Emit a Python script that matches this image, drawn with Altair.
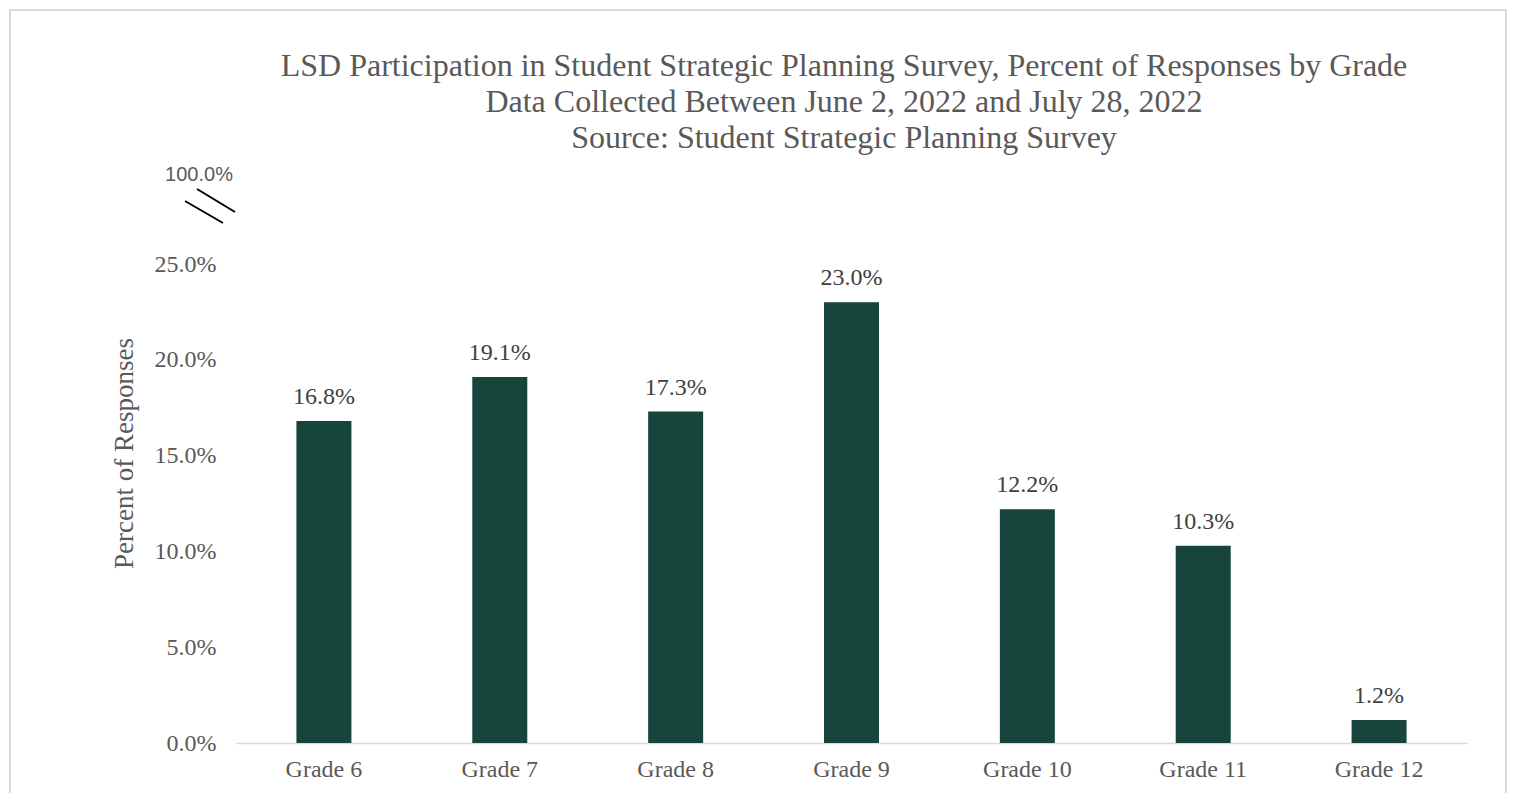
import altair as alt
import pandas as pd

grades = ["Grade 6", "Grade 7", "Grade 8", "Grade 9", "Grade 10", "Grade 11", "Grade 12"]
percents = [16.8, 19.1, 17.3, 23.0, 12.2, 10.3, 1.2]
y_ticks = [0, 5, 10, 15, 20, 25]
title_lines = [
    "LSD Participation in Student Strategic Planning Survey, Percent of Responses by Grade",
    "Data Collected Between June 2, 2022 and July 28, 2022",
    "Source: Student Strategic Planning Survey",
]
break_label = "100.0%"

df = pd.DataFrame({"grade": grades, "pct": percents})
df["label"] = [f"{v:.1f}%" for v in percents]

W, H = 1231, 479
SERIF = "Liberation Serif"

x_enc = alt.X("grade:N", sort=grades, title=None,
              scale=alt.Scale(paddingInner=0, paddingOuter=0),
              axis=alt.Axis(labelAngle=0, labelFont=SERIF, labelFontSize=24,
                            labelColor="#595959", ticks=False, domainColor="#d9d9d9",
                            domainWidth=1.5, labelPadding=14))
y_enc = alt.Y("pct:Q", title="Percent of Responses",
              scale=alt.Scale(domain=[0, 25], nice=False),
              axis=alt.Axis(values=y_ticks, labelExpr="format(datum.value, '.1f') + '%'",
                            labelFont=SERIF, labelFontSize=24, labelColor="#595959",
                            ticks=False, domain=False, grid=False, labelPadding=20,
                            titleFont=SERIF, titleFontSize=27, titleColor="#595959",
                            titleFontWeight="normal", titleX=-112, titleY=189,
                            titleAngle=270, titleBaseline="middle", titleAlign="center"))

bars = alt.Chart(df).mark_bar(size=55, color="#17453B").encode(x=x_enc, y=y_enc)
labels = alt.Chart(df).mark_text(baseline="alphabetic", dy=-17, font=SERIF, fontSize=24,
                                 color="#404040").encode(
    x=alt.X("grade:N", sort=grades), y="pct:Q", text="label:N")

one = alt.Data(values=[{}])
title_text = alt.Chart(one).mark_text(font=SERIF, fontSize=32, color="#595959",
                                      align="center", baseline="middle",
                                      lineBreak="\n", lineHeight=36).encode(
    x=alt.value(608), y=alt.value(-198), text=alt.value("\n".join(title_lines)))
brk_text = alt.Chart(one).mark_text(font="Liberation Sans", fontSize=20, color="#595959",
                                    align="center", baseline="middle").encode(
    x=alt.value(-37), y=alt.value(-89), text=alt.value(break_label))
line1 = alt.Chart(one).mark_rule(color="black", strokeWidth=2).encode(
    x=alt.value(-39), y=alt.value(-75), x2=alt.value(-1), y2=alt.value(-52))
line2 = alt.Chart(one).mark_rule(color="black", strokeWidth=2).encode(
    x=alt.value(-51), y=alt.value(-63), x2=alt.value(-13), y2=alt.value(-41))
border = alt.Chart(one).mark_rect(fill=None, stroke="#d9d9d9", strokeWidth=2).encode(
    x=alt.value(-226), y=alt.value(-254), x2=alt.value(1270), y2=alt.value(560))

chart = alt.layer(border, bars, labels, title_text, brk_text, line1, line2).properties(
    width=W, height=H,
    padding={"left": 228, "top": 256, "right": 40, "bottom": 50},
    autosize=alt.AutoSizeParams(type="none"),
).configure_view(stroke=None)

chart.save("out.html", embed_options={"renderer": "svg", "actions": False})
